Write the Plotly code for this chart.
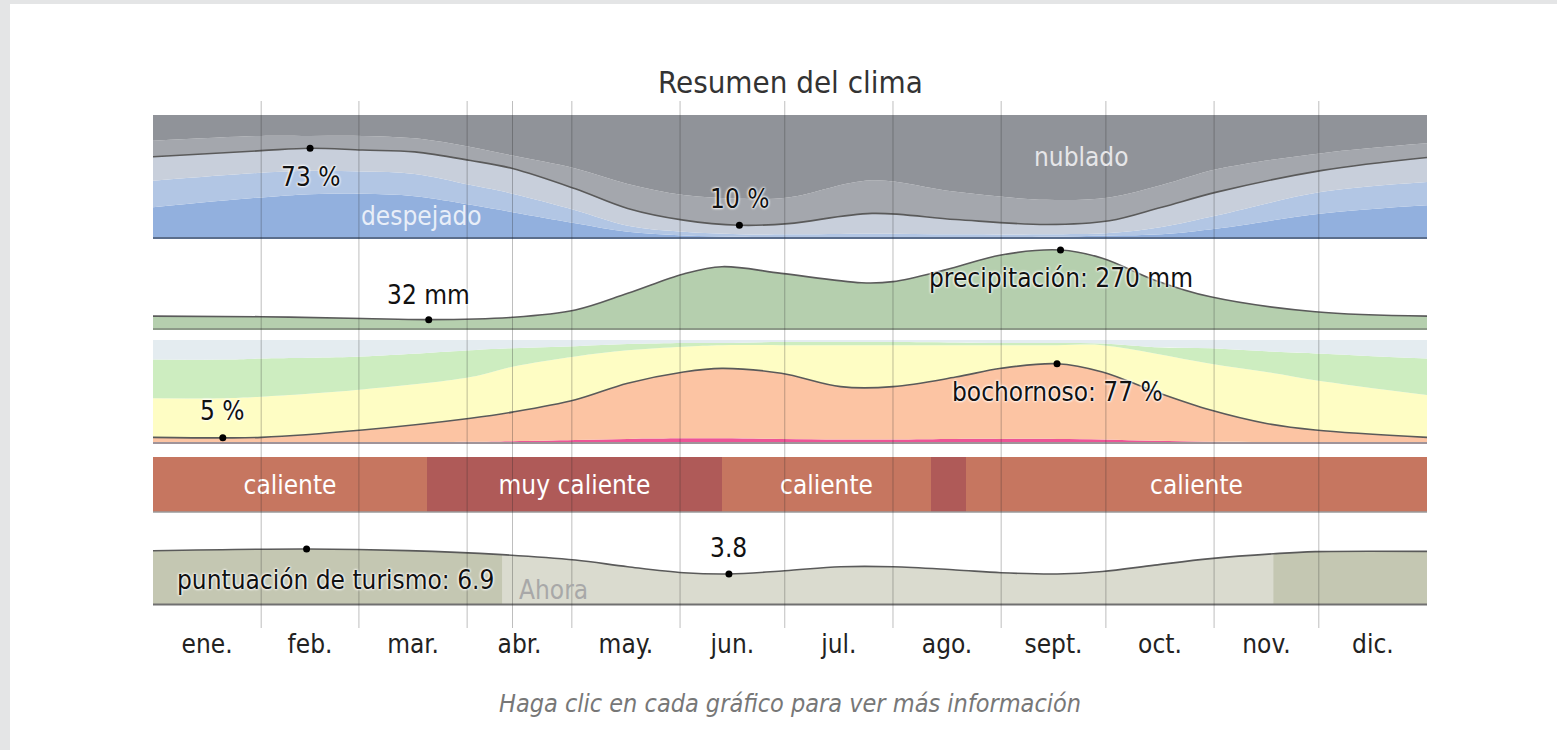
import numpy as np
import plotly.graph_objects as go

FONT = "DejaVu Sans Condensed, Liberation Sans Narrow, Arial Narrow, sans-serif"

# ---------------- data ----------------
month_labels = ["ene.", "feb.", "mar.", "abr.", "may.", "jun.", "jul.", "ago.", "sept.", "oct.", "nov.", "dic."]
month_start_days = [0, 31, 59, 90, 120, 151, 181, 212, 243, 273, 304, 334, 365]
now_day = 103

# cloud cover (% of time per category)
cloud_days = [0, 31, 45, 60, 75, 91, 103, 121, 136, 152, 168, 182, 206, 230, 256, 274, 289, 305, 335, 365]
cloud_clear = [25, 33, 35.6, 36, 34, 27, 21, 12, 5, 2, 1, 0.8, 0.8, 0.8, 1, 2, 3, 7.7, 20, 26.6]
cloud_mostly_clear = [21.5, 20, 19, 18, 18, 16, 15, 10.6, 5, 3, 2, 2.2, 2.7, 2.2, 2, 2, 6, 10.8, 17.5, 19]
cloud_partly = [19.5, 18, 18.4, 17.5, 18, 20, 20.5, 17.4, 14, 9.5, 7.4, 8.7, 16.5, 12, 8, 10, 16, 19, 17.5, 19.9]
cloud_mostly_cloudy = [13, 12, 10, 11.5, 11, 11, 10.5, 16.5, 20, 20.5, 21.6, 21.3, 27, 22.5, 20, 19, 18, 18.5, 14, 11.5]
cloud_overcast = [21, 17, 17, 17, 19, 26, 33, 43.5, 56, 65, 68, 67, 53, 62.5, 69, 67, 57, 44, 31, 23]

# precipitation (mm)
precip_days = [0, 31, 60, 79, 103, 121, 136, 152, 163, 180, 203, 212, 227, 243, 260, 272, 287, 303, 333, 365]
precip_mm = [44, 42, 36, 32, 40, 65, 122, 188, 213, 190, 158, 162, 202, 253, 270, 242, 167, 110, 59, 44]

# humidity comfort levels (% of time)
hum_days = [0, 20, 31, 60, 91, 103, 121, 136, 152, 163, 180, 197, 212, 230, 243, 259, 272, 287, 303, 319, 333, 365]
hum_oppressive = [0.5, 0.5, 0.5, 0.8, 1.2, 1.8, 3, 4, 4.5, 4.5, 4, 3.5, 3.5, 4, 4, 4, 3.5, 2.2, 1.2, 0.8, 0.6, 0.5]
hum_muggy = [5.0, 4.5, 5.0, 11.8, 22.8, 28.2, 39, 54, 64.5, 68, 63.7, 51.2, 51.2, 60, 68.5, 73, 65.5, 47.8, 30.8, 18.2, 12, 5]
hum_humid = [37.9, 38.5, 39.5, 39.4, 40, 44, 42, 32, 24.5, 22.5, 27.3, 40.3, 40.3, 31, 22.5, 18, 26, 37, 45, 50, 48.4, 41.1]
hum_comfortable = [37.6, 37.5, 37, 32, 26, 18, 10, 6, 3.5, 2, 3, 3, 3, 2.5, 2, 2, 1.5, 6, 15, 20, 26, 35.4]
hum_dry = [19, 19, 18, 16, 10, 8, 6, 4, 3, 3, 2, 2, 2, 2.5, 3, 3, 3.5, 7, 8, 11, 13, 18]

# temperature categories (day boundaries)
temp_bounds = [0, 78.5, 163, 223, 233, 365]
temp_labels = ["caliente", "muy caliente", "caliente", "", "caliente"]
temp_kinds = ["caliente", "muy caliente", "caliente", "muy caliente", "caliente"]

# tourism score
tour_days = [0, 44, 73, 100, 121, 136, 152, 165, 181, 197, 212, 230, 243, 259, 272, 287, 303, 321, 333, 365]
tour_score = [6.69, 6.9, 6.7, 6.2, 5.53, 4.7, 3.96, 3.8, 4.2, 4.7, 4.7, 4.3, 3.96, 3.8, 4.1, 4.9, 5.7, 6.3, 6.57, 6.6]
tour_best_ranges = [(0, 100), (321, 365)]

# ---------------- colours ----------------
cloud_colors = ["#92b0de", "#b2c6e4", "#c8cfdb", "#a4a7ad", "#909399"]
hum_colors = ["#ec5496", "#fcc4a3", "#fefdc4", "#cdedc0", "#e4ecf0"]
temp_colors = {"caliente": "#c67660", "muy caliente": "#af5a58"}
precip_color = "#b5cfae"
tour_light = "#dadbcf"
tour_dark = "#c4c7b2"
line_col = "#5a5a5a"

fig = go.Figure()

# ---- cloud band (y) ----
for vals, col in zip([cloud_clear, cloud_mostly_clear, cloud_partly, cloud_mostly_cloudy, cloud_overcast], cloud_colors):
    fig.add_trace(go.Scatter(x=cloud_days, y=vals, stackgroup="cloud", yaxis="y",
                             mode="lines", line=dict(width=0, shape="spline"),
                             fillcolor=col, hoverinfo="skip"))
cloud_line = np.array(cloud_clear) + np.array(cloud_mostly_clear) + np.array(cloud_partly)
fig.add_trace(go.Scatter(x=cloud_days, y=cloud_line, yaxis="y", mode="lines",
                         line=dict(color=line_col, width=1.6, shape="spline"), hoverinfo="skip"))
c_max, c_min = int(np.argmax(cloud_line)), int(np.argmin(cloud_line))
fig.add_trace(go.Scatter(x=[cloud_days[c_max], cloud_days[c_min]], y=[cloud_line[c_max], cloud_line[c_min]],
                         yaxis="y", mode="markers", marker=dict(color="black", size=7), hoverinfo="skip"))

# ---- precipitation band (y2) ----
fig.add_trace(go.Scatter(x=precip_days, y=precip_mm, yaxis="y2", mode="lines", fill="tozeroy",
                         fillcolor=precip_color, line=dict(color=line_col, width=1.6, shape="spline"),
                         hoverinfo="skip"))
p_max, p_min = int(np.argmax(precip_mm)), int(np.argmin(precip_mm))
fig.add_trace(go.Scatter(x=[precip_days[p_max], precip_days[p_min]], y=[precip_mm[p_max], precip_mm[p_min]],
                         yaxis="y2", mode="markers", marker=dict(color="black", size=7), hoverinfo="skip"))

# ---- humidity band (y3) ----
for vals, col in zip([hum_oppressive, hum_muggy, hum_humid, hum_comfortable, hum_dry], hum_colors):
    fig.add_trace(go.Scatter(x=hum_days, y=vals, stackgroup="hum", yaxis="y3",
                             mode="lines", line=dict(width=0, shape="spline"),
                             fillcolor=col, hoverinfo="skip"))
hum_line = np.array(hum_oppressive) + np.array(hum_muggy)
fig.add_trace(go.Scatter(x=hum_days, y=hum_line, yaxis="y3", mode="lines",
                         line=dict(color=line_col, width=1.6, shape="spline"), hoverinfo="skip"))
h_max, h_min = int(np.argmax(hum_line)), 1
fig.add_trace(go.Scatter(x=[hum_days[h_max], hum_days[h_min]], y=[hum_line[h_max], hum_line[h_min]],
                         yaxis="y3", mode="markers", marker=dict(color="black", size=7), hoverinfo="skip"))

# ---- temperature band (y4) ----
t_lo = np.array(temp_bounds[:-1])
t_hi = np.array(temp_bounds[1:])
fig.add_trace(go.Bar(x=(t_lo + t_hi) / 2, y=[1] * len(temp_labels), width=t_hi - t_lo, base=0,
                     yaxis="y4", marker=dict(color=[temp_colors[k] for k in temp_kinds], line=dict(width=0)),
                     text=temp_labels, textposition="inside", insidetextanchor="middle",
                     textangle=0, constraintext="none",
                     textfont=dict(family=FONT, size=26, color="white"), hoverinfo="skip"))

# ---- tourism band (y5) ----
fig.add_trace(go.Scatter(x=tour_days, y=tour_score, yaxis="y5", mode="lines", fill="tozeroy",
                         fillcolor=tour_light, line=dict(width=0, shape="spline"), hoverinfo="skip"))
for a, b in tour_best_ranges:
    xs = [d for d in tour_days if a <= d <= b]
    ys = [v for d, v in zip(tour_days, tour_score) if a <= d <= b]
    fig.add_trace(go.Scatter(x=xs, y=ys, yaxis="y5", mode="lines", fill="tozeroy",
                             fillcolor=tour_dark, line=dict(width=0, shape="spline"), hoverinfo="skip"))
fig.add_trace(go.Scatter(x=tour_days, y=tour_score, yaxis="y5", mode="lines",
                         line=dict(color=line_col, width=1.6, shape="spline"), hoverinfo="skip"))
t_max, t_min = int(np.argmax(tour_score)), int(np.argmin(tour_score))
fig.add_trace(go.Scatter(x=[tour_days[t_max], tour_days[t_min]], y=[tour_score[t_max], tour_score[t_min]],
                         yaxis="y5", mode="markers", marker=dict(color="black", size=7), hoverinfo="skip"))

# ---------------- layout ----------------
W, H = 1557, 750
ML, MR, MT, MB = 153, 130, 100, 122
PH = H - MT - MB


def dom(y_bottom_px, y_top_px):
    return [(H - MB - y_bottom_px) / PH, (H - MB - y_top_px) / PH]


shapes = []
# page background (grey strip at top/left, white page)
shapes.append(dict(type="rect", xref="paper", yref="paper", layer="below",
                   x0=(10 - ML) / 1274, x1=(W - ML) / 1274 + 0.01,
                   y0=(H - MB - H) / PH - 0.01, y1=(H - MB - 4) / PH,
                   fillcolor="white", line=dict(width=0)))
# band baselines
for ax, col, w in [("y", "#5b6e8c", 2), ("y2", "#8c9a88", 2), ("y3", "#a0949a", 2),
                   ("y4", "#9a9a9a", 1.5), ("y5", "#707070", 2)]:
    shapes.append(dict(type="line", xref="paper", yref=f"{ax} domain", x0=0, x1=1, y0=0, y1=0,
                       line=dict(color=col, width=w), layer="above"))
# month separators and "now" line
for d in month_start_days[1:-1] + [now_day]:
    shapes.append(dict(type="line", xref="x", yref="paper", x0=d, x1=d, y0=0, y1=(H - MB - 101) / PH,
                       line=dict(color="rgba(40,40,40,0.3)", width=1), layer="above"))

halo = "0px 0px 3px white, 0px 0px 3px white, 0px 0px 2px white"
LS = 26
lab_font = dict(family=FONT, size=LS, color="#111111", shadow=halo)

annotations = [
    dict(text="Resumen del clima", xref="paper", yref="paper", x=0.5, y=(H - MB - 82) / PH,
         showarrow=False, font=dict(family=FONT, size=31, color="#333333"), yanchor="middle"),
    dict(text="<i>Haga clic en cada gráfico para ver más información</i>", xref="paper", yref="paper",
         x=0.5, y=(H - MB - 703) / PH, showarrow=False, yanchor="middle",
         font=dict(family=FONT, size=25, color="#777777")),
    dict(text=f"{cloud_line[c_max]:.0f} %", x=cloud_days[c_max], y=cloud_line[c_max], yref="y",
         yshift=-29, showarrow=False, font=lab_font),
    dict(text=f"{cloud_line[c_min]:.0f} %", x=cloud_days[c_min], y=cloud_line[c_min], yref="y",
         yshift=26, showarrow=False, font=lab_font),
    dict(text="despejado", x=77, y=18, yref="y", showarrow=False,
         font=dict(family=FONT, size=LS, color="#e8eef8")),
    dict(text="nublado", x=266, y=66, yref="y", showarrow=False,
         font=dict(family=FONT, size=LS, color="#e6e6e8")),
    dict(text=f"{precip_mm[p_min]} mm", x=precip_days[p_min], y=precip_mm[p_min], yref="y2",
         yshift=25, showarrow=False, font=lab_font),
    dict(text=f"precipitación: {precip_mm[p_max]} mm", x=precip_days[p_max], y=precip_mm[p_max], yref="y2",
         yshift=-28, showarrow=False, font=lab_font),
    dict(text=f"{hum_line[h_min]:.0f} %", x=hum_days[h_min], y=hum_line[h_min], yref="y3",
         yshift=27, showarrow=False, font=lab_font),
    dict(text=f"bochornoso: {hum_line[h_max]:.0f} %", x=hum_days[h_max], y=hum_line[h_max], yref="y3",
         yshift=-28, showarrow=False, font=lab_font),
    dict(text=f"{tour_score[t_min]:.1f}", x=tour_days[t_min], y=tour_score[t_min], yref="y5",
         yshift=26, showarrow=False, font=lab_font),
    dict(text=f"puntuación de turismo: {tour_score[t_max]:.1f}", x=0, y=tour_score[t_max], yref="y5",
         xanchor="left", xshift=22, yshift=-31, showarrow=False, font=lab_font),
    dict(text="Ahora", x=now_day, y=0, yref="y5", xanchor="left", yanchor="bottom",
         xshift=4, yshift=-2, showarrow=False, font=dict(family=FONT, size=LS, color="#a8a8a8")),
]

month_mid = [(month_start_days[i] + month_start_days[i + 1]) / 2 for i in range(12)]

fig.update_layout(
    width=W, height=H,
    margin=dict(l=ML, r=MR, t=MT, b=MB),
    paper_bgcolor="#e4e5e6", plot_bgcolor="rgba(0,0,0,0)",
    showlegend=False, bargap=0,
    font=dict(family=FONT),
    xaxis=dict(range=[0, 365], showgrid=False, zeroline=False, showline=False,
               anchor="free", position=10 / PH,
               tickvals=month_mid, ticktext=month_labels, ticks="outside", ticklen=3,
               tickcolor="rgba(0,0,0,0)", tickfont=dict(family=FONT, size=LS, color="#222222"),
               fixedrange=True),
    yaxis=dict(domain=dom(238, 115), range=[0, 100], visible=False, fixedrange=True),
    yaxis2=dict(domain=dom(329, 329 - 290 * 0.2926), range=[0, 290], visible=False, fixedrange=True),
    yaxis3=dict(domain=dom(443, 340), range=[0, 100], visible=False, fixedrange=True),
    yaxis4=dict(domain=dom(512, 457), range=[0, 1], visible=False, fixedrange=True),
    yaxis5=dict(domain=dom(604.6, 604.6 - 80.6), range=[0, 10], visible=False, fixedrange=True),
    shapes=shapes,
    annotations=annotations,
)

fig.write_html("out.html", config={"displayModeBar": False},
               post_script="document.body.style.margin='0';document.body.style.overflow='hidden';")
